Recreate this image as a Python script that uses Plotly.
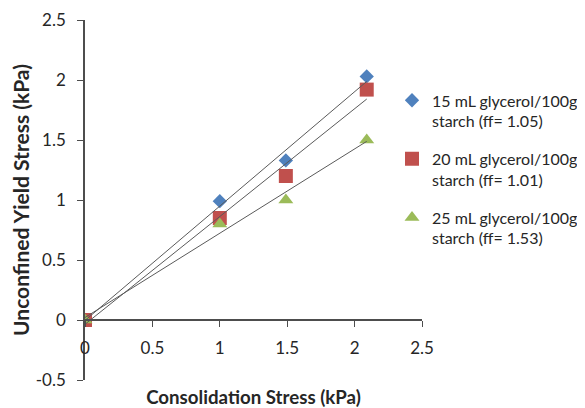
import numpy as np
import plotly.graph_objects as go

# Data
consolidation = [0, 1.0, 1.49, 2.09]
s15 = [0, 0.99, 1.33, 2.03]
s20 = [0, 0.85, 1.20, 1.92]
s25 = [0, 0.80, 1.00, 1.50]
names = [
    "15 mL glycerol/100g<br>starch (ff= 1.05)",
    "20 mL glycerol/100g<br>starch (ff= 1.01)",
    "25 mL glycerol/100g<br>starch (ff= 1.53)",
]
xticks = [0, 0.5, 1, 1.5, 2, 2.5]
xticklabels = ["0", "0.5", "1", "1.5", "2", "2.5"]
yticks = [-0.5, 0, 0.5, 1, 1.5, 2, 2.5]
yticklabels = ["-0.5", "0", "0.5", "1", "1.5", "2", "2.5"]

colors = ["#4F81BD", "#C0504D", "#9BBB59"]
symbols = ["diamond", "square", "triangle-up"]
sizes = [11, 14, 13]
series = [s15, s20, s25]

FONT = "Lato"
fig = go.Figure()
for i, ys in enumerate(series):
    fig.add_trace(go.Scatter(
        x=consolidation, y=ys, mode="markers", name=names[i],
        legendgroup=f"g{i}",
        marker=dict(symbol=symbols[i], size=sizes[i], color=colors[i], line=dict(width=0)),
    ))
# linear trendlines (least squares) drawn on top
for i, ys in enumerate(series):
    m, b = np.polyfit(consolidation, ys, 1)
    xs = np.array([min(consolidation), max(consolidation)])
    fig.add_trace(go.Scatter(
        x=xs, y=m * xs + b, mode="lines", showlegend=False,
        line=dict(color="#5a5a5a", width=1), hoverinfo="skip",
    ))

axis_common = dict(
    showline=True, linecolor="#4d4d4d", linewidth=1.5, showgrid=False, zeroline=False,
    ticks="outside", ticklen=6, tickcolor="#4d4d4d", tickwidth=1.2,
    tickfont=dict(family=FONT, size=17, color="#262626"), automargin=False,
)
# page body has an 8px default margin; figure is offset by 8px
fig.update_layout(
    width=600, height=400,
    margin=dict(l=77, r=186, t=12, b=28),
    paper_bgcolor="white", plot_bgcolor="white",
    font=dict(family=FONT, color="#262626"),
    xaxis=dict(
        range=[0, 2.5], tickvals=xticks, ticktext=xticklabels,
        anchor="free", position=1 / 6, ticklabelstandoff=7,
        title=dict(text="<b>Consolidation Stress (kPa)</b>", font=dict(family=FONT, size=18.7, color="#262626"), standoff=33),
        **axis_common,
    ),
    yaxis=dict(
        range=[-0.5, 2.5], tickvals=yticks, ticktext=yticklabels, ticklabelstandoff=8,
        title=dict(text="<b>Unconfined Yield Stress (kPa)</b>", font=dict(family=FONT, size=21, color="#262626"), standoff=6),
        **axis_common,
    ),
    legend=dict(
        x=(392 - 85) / 337, y=0.824, xanchor="left", yanchor="top",
        valign="top", tracegroupgap=14, font=dict(family=FONT, size=16, color="#262626"),
        bgcolor="rgba(0,0,0,0)",
    ),
    showlegend=True,
)
fig.write_html("out.html")
